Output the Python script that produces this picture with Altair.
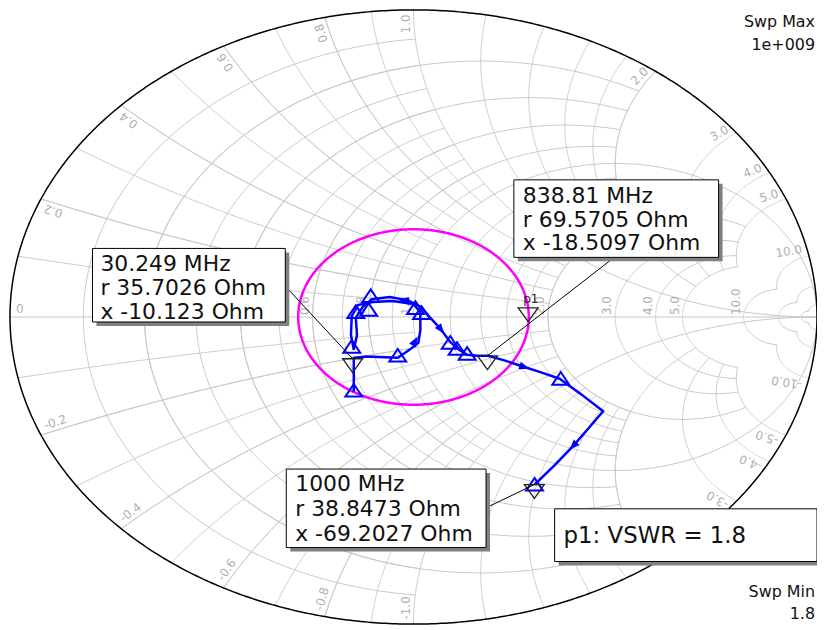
import altair as alt
import numpy as np
import pandas as pd

# ---------------- values ----------------
# blue trace: reflection coefficient (real, imag) in sweep order
trace_re = [-0.148, -0.148, -0.148, -0.118, -0.039, -0.010, 0.012, 0.017, 0.017, 0.000,
            -0.052, -0.101, -0.138, -0.153, -0.155, -0.148, -0.140, -0.143, -0.126, -0.103,
            -0.059, -0.015, 0.020, 0.042, 0.067, 0.091, 0.113, 0.133, 0.158, 0.185,
            0.227, 0.273, 0.318, 0.362, 0.416, 0.470, 0.436, 0.397, 0.350, 0.300]
trace_im = [-0.243, -0.188, -0.133, -0.129, -0.133, -0.107, -0.084, -0.042, 0.016, 0.042,
            0.052, 0.049, 0.039, 0.003, -0.058, -0.107, -0.058, -0.003, 0.032, 0.058,
            0.065, 0.055, 0.032, -0.003, -0.039, -0.081, -0.107, -0.123, -0.126, -0.126,
            -0.142, -0.162, -0.181, -0.201, -0.252, -0.307, -0.359, -0.418, -0.482, -0.546]
# trace symbols (open triangles)
sym_re = [-0.148, -0.153, -0.143, -0.111, -0.106, -0.039, 0.005, 0.020, 0.091, 0.108, 0.133, 0.365, 0.300]
sym_im = [-0.240, -0.097, 0.016, 0.023, 0.068, -0.126, 0.029, 0.013, -0.084, -0.104, -0.120, -0.201, -0.546]
# direction arrows on the trace
arrow_re = [0.067, 0.273, 0.397, 0.003, -0.022]
arrow_im = [-0.039, -0.162, -0.418, -0.081, 0.052]
arrow_dir = [142, 108, 224, 30, 270]

# markers (Z0 = 50 Ohm)
Z0 = 50.0
marker_freq = ["30.249 MHz", "838.81 MHz", "1000 MHz"]
marker_r = [35.7026, 69.5705, 38.8473]
marker_x = [-10.123, -18.5097, -69.2027]
vswr = 1.8
p1_angle = 6.0

# grid definition
r_groups = [([0.1, 0.2, 0.3, 0.4, 0.5, 0.6, 0.7, 0.8, 0.9], 1.0),
            ([0.2, 0.4, 0.6, 0.8], 2.0),
            ([1.0], np.inf),
            ([1.2, 1.4, 1.6, 1.8, 2.0], 2.0),
            ([2.0], 5.0),
            ([3.0, 4.0, 5.0], 5.0),
            ([10.0], 10.0), ([20.0], 20.0), ([50.0], 50.0)]
x_groups = [([0.1, 0.2, 0.3, 0.4, 0.5, 0.6, 0.7, 0.8, 0.9], 1.0),
            ([0.2, 0.4, 0.6, 0.8], 2.0),
            ([1.0], np.inf),
            ([1.2, 1.4, 1.6, 1.8, 2.0], 2.0),
            ([2.0], 5.0),
            ([3.0, 4.0, 5.0], 5.0),
            ([10.0], 10.0), ([20.0], 20.0), ([50.0], 50.0)]
x_label_vals = [0.2, 0.4, 0.6, 0.8, 1.0, 2.0, 3.0, 4.0, 5.0, 10.0]
r_label_vals = [0.2, 0.4, 0.6, 0.8, 1.0, 2.0, 3.0, 4.0, 5.0, 10.0]

box_lines = [["30.249 MHz", "r 35.7026 Ohm", "x -10.123 Ohm"],
             ["838.81 MHz", "r 69.5705 Ohm", "x -18.5097 Ohm"],
             ["1000 MHz", "r 38.8473 Ohm", "x -69.2027 Ohm"]]
vswr_text = "p1: VSWR = 1.8"
sweep_text = ["Swp Max", "1e+009", "Swp Min", "1.8"]

# ---------------- layout ----------------
W, H = 812, 618
RX, RY = W / 2, H / 2
FONT = "DejaVu Sans"

def px2g(px, py):
    return (px - RX) / RX, (RY - py) / RY

def gamma(z):
    return (z - 1) / (z + 1)

# grid lines
rows = []
gid = 0
for vals, lim in r_groups:
    for r in vals:
        t = np.linspace(-np.arctan(lim), np.arctan(lim), 301)
        g = gamma(r + 1j * np.tan(t))
        for k, gg in enumerate(g):
            rows.append((gg.real, gg.imag, gid, k))
        gid += 1
for vals, lim in x_groups:
    for xv in vals:
        for s in (1, -1):
            t = np.linspace(0, np.arctan(lim), 301)
            g = gamma(np.tan(t) + 1j * s * xv)
            for k, gg in enumerate(g):
                rows.append((gg.real, gg.imag, gid, k))
            gid += 1
rows.append((-1.0, 0.0, gid, 0)); rows.append((1.0, 0.0, gid, 1))
grid_df = pd.DataFrame(rows, columns=["gx", "gy", "gid", "ord"])

th = np.linspace(0, 2 * np.pi, 721)
outer_df = pd.DataFrame({"gx": np.cos(th), "gy": np.sin(th), "ord": np.arange(len(th))})
rho = (vswr - 1) / (vswr + 1)
vswr_df = pd.DataFrame({"gx": rho * np.cos(th), "gy": rho * np.sin(th), "ord": np.arange(len(th))})

# grid labels
def xlab_rows(sign):
    out = []
    vals = [v * sign for v in x_label_vals]
    if sign < 0:
        vals = [0.0] + vals
    for xv in vals:
        g = (xv * xv - 1 + 2j * xv) / (xv * xv + 1)
        a = np.arctan2(g.imag, g.real)
        ang = np.degrees(np.arctan2(-RY * np.sin(a), RX * np.cos(a)))
        if sign < 0:
            ang += 180
        ang = ang % 360
        out.append((0.985 * g.real, 0.985 * g.imag, f"{xv:.1f}" if xv != 0 else "0", ang))
    return pd.DataFrame(out, columns=["gx", "gy", "txt", "ang"])

xpos_df = xlab_rows(1)
xneg_df = xlab_rows(-1)
rlab_df = pd.DataFrame({"gx": [(r - 1) / (r + 1) for r in r_label_vals],
                        "gy": [0.0] * len(r_label_vals),
                        "txt": [f"{r:.1f}" for r in r_label_vals]})

trace_df = pd.DataFrame({"gx": trace_re, "gy": trace_im, "ord": np.arange(len(trace_re))})
sym_df = pd.DataFrame({"gx": sym_re, "gy": sym_im})
arrow_df = pd.DataFrame({"gx": arrow_re, "gy": arrow_im, "ang": arrow_dir})

mg = [gamma(complex(r, x) / Z0) for r, x in zip(marker_r, marker_x)]
p1 = rho * np.exp(1j * np.radians(p1_angle))
mk_df = pd.DataFrame({"gx": [g.real for g in mg] + [p1.real], "gy": [g.imag for g in mg] + [p1.imag]})

# annotation boxes (pixel layout inside plot area)
boxes = [(83, 240, 277, 314), (507, 171, 713, 249), (278, 462, 479, 541), (548, 502, 812, 555)]
anchors = [(277, 278), (608, 249), (479, 501)]
lead_rows = []
for (ax, ay), g in zip(anchors, mg):
    gx0, gy0 = px2g(ax, ay)
    lead_rows.append((gx0, gy0, g.real, g.imag))
lead_df = pd.DataFrame(lead_rows, columns=["gx", "gy", "gx2", "gy2"])

def rect_df(off):
    out = []
    for (x0, y0, x1, y1) in boxes:
        a = px2g(x0 + off, y0 + off); b = px2g(x1 + off, y1 + off)
        out.append((a[0], a[1], b[0], b[1]))
    return pd.DataFrame(out, columns=["gx", "gy", "gx2", "gy2"])

shadow_df = rect_df(4)
box_df = rect_df(0)

txt_rows = []
line_y = [[256, 280, 304], [187, 211, 235], [477, 502, 527]]
text_x = [91, 516, 287]
for lines, ly, tx in zip(box_lines, line_y, text_x):
    for s, yy in zip(lines, ly):
        gx0, gy0 = px2g(tx, yy)
        txt_rows.append((gx0, gy0, s))
btxt_df = pd.DataFrame(txt_rows, columns=["gx", "gy", "txt"])
vtxt_df = pd.DataFrame([(*px2g(557, 529), vswr_text)], columns=["gx", "gy", "txt"])

sw_pos = [(810, 12), (810, 35), (810, 586), (810, 608)]
sw_df = pd.DataFrame([(*px2g(x, y), s) for (x, y), s in zip(sw_pos, sweep_text)], columns=["gx", "gy", "txt"])
p1_df = pd.DataFrame([(*px2g(524, 291), "p1")], columns=["gx", "gy", "txt"])

# ---------------- chart ----------------
xs = alt.Scale(domain=[-1, 1], nice=False, zero=False)
ys = alt.Scale(domain=[-1, 1], nice=False, zero=False)

def XY():
    return dict(x=alt.X("gx:Q", scale=xs, axis=None), y=alt.Y("gy:Q", scale=ys, axis=None))

grid = alt.Chart(grid_df).mark_line(color="#c8c8c8", strokeWidth=1).encode(
    **XY(), detail="gid:N", order="ord:Q")
outer = alt.Chart(outer_df).mark_line(color="black", strokeWidth=1.5).encode(**XY(), order="ord:Q")
lab_style = dict(font=FONT, fontSize=12, color="#b0b0b0", baseline="bottom")
xpos_lab = alt.Chart(xpos_df).mark_text(align="right", dy=-1, **lab_style).encode(
    **XY(), text="txt:N", angle=alt.Angle("ang:Q", scale=None))
xneg_lab = alt.Chart(xneg_df).mark_text(align="left", dy=-1, **lab_style).encode(
    **XY(), text="txt:N", angle=alt.Angle("ang:Q", scale=None))
r_lab = alt.Chart(rlab_df).mark_text(align="left", dx=2, dy=-1, angle=270, **lab_style).encode(
    **XY(), text="txt:N")
vswr_c = alt.Chart(vswr_df).mark_line(color="#ff00ff", strokeWidth=2.5).encode(**XY(), order="ord:Q")
trace = alt.Chart(trace_df).mark_line(color="#0000ff", strokeWidth=2.5).encode(**XY(), order="ord:Q")
syms = alt.Chart(sym_df).mark_point(shape="M0,-0.8L1,0.7L-1,0.7Z", size=289, filled=False,
                                    color="#0000ff", strokeWidth=2, opacity=1).encode(**XY())
arrows = alt.Chart(arrow_df).mark_point(shape="M0,-1L0.65,0.7L-0.65,0.7Z", size=150, filled=True,
                                        color="#0000ff", opacity=1).encode(
    **XY(), angle=alt.Angle("ang:Q", scale=None))
marks = alt.Chart(mk_df).mark_point(shape="M-1,0L1,0L0,1.4Z", size=400, filled=False,
                                    color="#222222", strokeWidth=1.3, opacity=1).encode(**XY())
leads = alt.Chart(lead_df).mark_rule(color="black", strokeWidth=1).encode(**XY(), x2="gx2:Q", y2="gy2:Q")
shadows = alt.Chart(shadow_df).mark_rect(color="#808080").encode(**XY(), x2="gx2:Q", y2="gy2:Q")
rects = alt.Chart(box_df).mark_rect(fill="white", stroke="black", strokeWidth=1).encode(
    **XY(), x2="gx2:Q", y2="gy2:Q")
btxt = alt.Chart(btxt_df).mark_text(align="left", baseline="middle", font=FONT, fontSize=22,
                                    color="#111111").encode(**XY(), text="txt:N")
vtxt = alt.Chart(vtxt_df).mark_text(align="left", baseline="middle", font=FONT, fontSize=23,
                                    color="#111111").encode(**XY(), text="txt:N")
swt = alt.Chart(sw_df).mark_text(align="right", baseline="middle", font=FONT, fontSize=16,
                                 color="#111111").encode(**XY(), text="txt:N")
p1t = alt.Chart(p1_df).mark_text(align="center", baseline="middle", font=FONT, fontSize=12,
                                 color="#222222").encode(**XY(), text="txt:N")

chart = alt.layer(grid, xpos_lab, xneg_lab, r_lab, outer, vswr_c, trace, arrows, syms, marks,
                  p1t, leads, shadows, rects, btxt, vtxt, swt).properties(
    width=W, height=H, padding={"left": 2, "top": 0, "right": 0, "bottom": 0}, autosize="none"
).configure_view(stroke=None)

chart.save("out.html", embed_options={"renderer": "svg", "actions": False})
